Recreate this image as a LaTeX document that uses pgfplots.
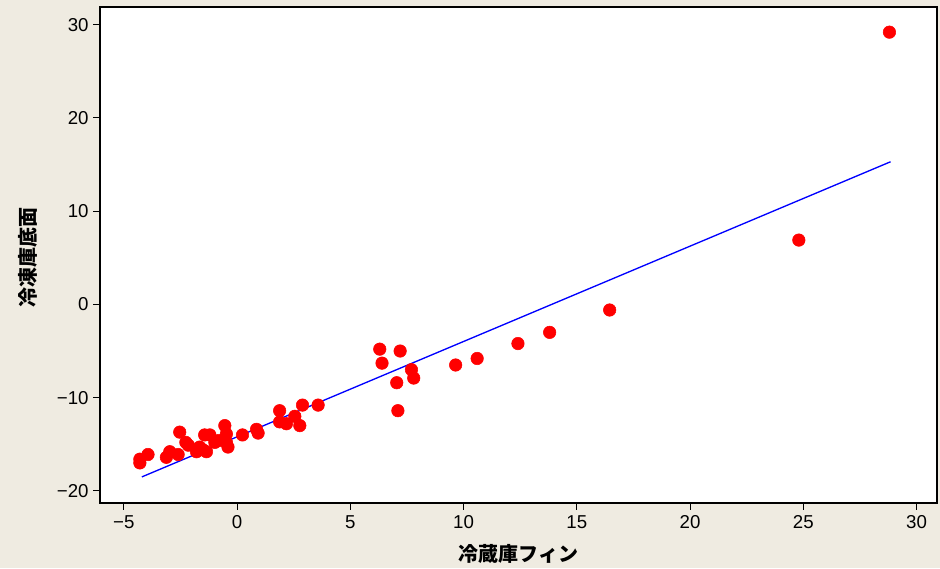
\documentclass[border=0pt]{standalone}
\usepackage{pgfplots}
\pgfplotsset{compat=1.18}
\usepackage{fontspec}
\setmainfont{Liberation Sans}
\newfontfamily\jp{Noto Sans CJK JP}[BoldFont={Noto Sans CJK JP Black}]
\definecolor{bgbeige}{RGB}{239,235,225}
\begin{document}
\begin{tikzpicture}
\fill[bgbeige] (0pt,0pt) rectangle (705pt,426pt);
\begin{axis}[
  at={(75pt,48.75pt)}, anchor=south west,
  scale only axis, width=627.75pt, height=372pt,
  xmin=-6.05, xmax=30.9, ymin=-21.3, ymax=31.9,
  axis background/.style={fill=white},
  axis line style={line width=1.1pt},
  xtick={-5,0,...,30}, ytick={-20,-10,...,30},
  xticklabels={−5,0,5,10,15,20,25,30},
  yticklabels={−20,−10,0,10,20,30},
  tick pos=left, tick align=outside,
  major tick length=5pt,
  tick style={black, line width=0.8pt},
  ticklabel style={font=\fontsize{14}{16}\selectfont},
  xticklabel style={yshift=-1pt},
  xlabel={\jp\bfseries 冷蔵庫フィン},
  ylabel={\jp\bfseries 冷凍庫底面},
  label style={font=\fontsize{15}{17}\selectfont},
  xlabel style={yshift=-5pt},
  ylabel style={yshift=8pt, xshift=-2pt},
  clip=false,
]
\addplot[blue, line width=1pt] coordinates {(-4.2,-18.5) (28.85,15.3)};
\addplot[only marks, mark=*, mark size=4.7pt, color=red, mark options={draw=red, fill=red}] coordinates {
(28.8,29.2) (24.8,6.9) (16.45,-0.6) (13.8,-3.0) (12.4,-4.2) (10.6,-5.8) (9.65,-6.5)
(6.3,-4.8) (6.4,-6.3) (7.2,-5.0) (7.7,-7.0) (7.8,-7.9) (7.05,-8.4) (7.1,-11.4)
(3.58,-10.8) (2.89,-10.8) (2.77,-13.0) (2.55,-12.0) (2.18,-12.8) (1.88,-12.6) (1.88,-11.4)
(0.93,-13.8) (0.86,-13.4) (0.24,-14.0)
(-0.4,-15.3) (-0.47,-14.8) (-0.47,-13.9) (-0.54,-13.0)
(-0.98,-14.8) (-1.2,-14.0) (-1.35,-15.8) (-1.43,-14.0) (-1.65,-15.3) (-1.79,-15.8)
(-2.26,-14.8) (-2.15,-15.1) (-2.53,-13.7) (-2.6,-16.1) (-2.97,-15.8) (-3.12,-16.4)
(-3.93,-16.1) (-4.29,-16.6) (-4.29,-17.0) (-1.5,-15.6) (-0.8,-14.6)
};
\end{axis}
\end{tikzpicture}
\end{document}
